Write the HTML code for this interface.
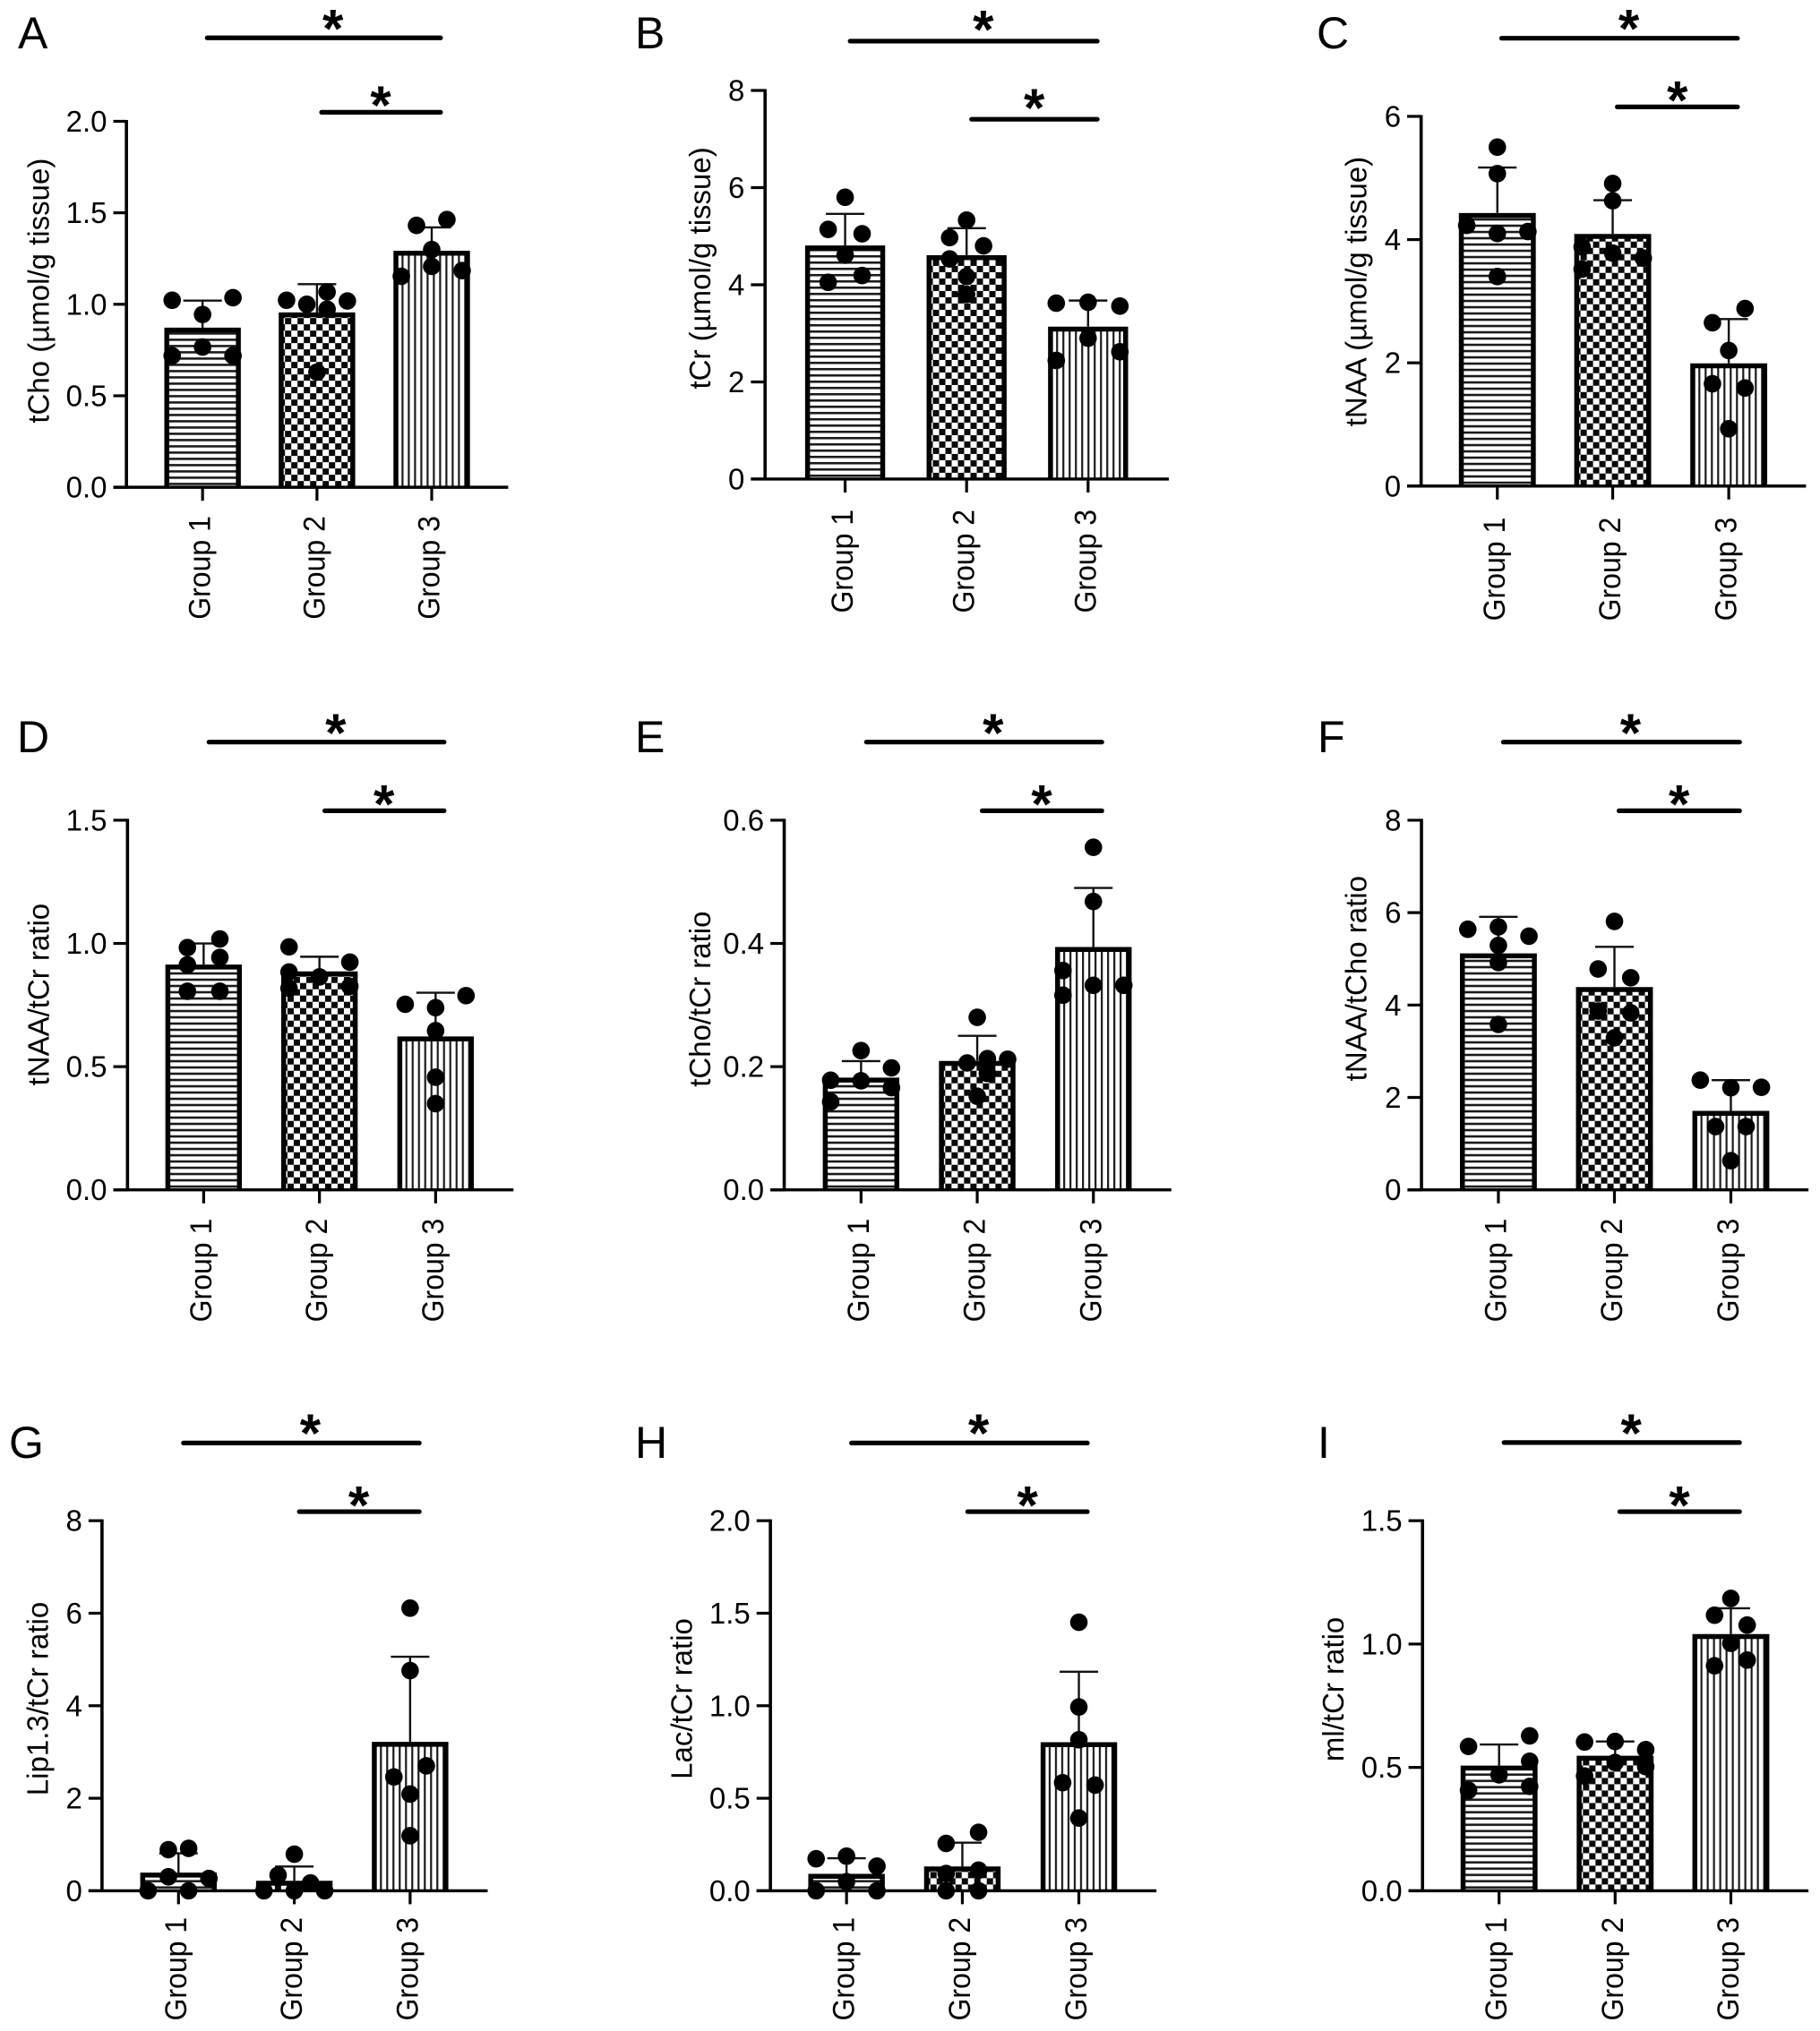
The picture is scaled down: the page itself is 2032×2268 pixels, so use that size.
<!DOCTYPE html>
<html lang="en">
<head>
<meta charset="utf-8">
<title>Metabolite bar charts by group</title>
<style>
html,body{margin:0;padding:0;background:#fff;}
body{width:2032px;height:2268px;overflow:hidden;}
svg{display:block;font-family:"Liberation Sans",Arial,sans-serif;fill:#000;}
</style>
</head>
<body>
<svg id="figure" xmlns="http://www.w3.org/2000/svg" width="2032" height="2268" viewBox="0 0 2032 2268">
<rect x="0" y="0" width="2032" height="2268" fill="#fff"/>
</svg>
<script>
const categories = ['Group 1', 'Group 2', 'Group 3'];

const meansA = [0.865, 0.948, 1.285];
const sdsA = [0.155, 0.162, 0.135];
const ticksA = ['0.0', '0.5', '1.0', '1.5', '2.0'];
const pointsA = [[1.022, 1.036, 0.944, 0.766, 0.719, 0.719], [1.022, 1.0, 1.067, 0.973, 1.018, 0.629], [1.431, 1.463, 1.299, 1.207, 1.153, 1.184]];
const slotsA = [[-3, 3, 0, 0, -3, 3], [-3, -1, 1, 1, 3, 0], [-1.5, 1.5, 0, 0, -3, 3]];

const meansB = [4.78, 4.58, 3.11];
const sdsB = [0.68, 0.585, 0.565];
const ticksB = ['0', '2', '4', '6', '8'];
const pointsB = [[5.8, 5.14, 5.05, 4.61, 4.19, 4.05], [5.33, 4.97, 4.8, 4.53, 4.17, 3.8], [3.62, 3.64, 3.56, 2.9, 2.62, 2.44]];
const slotsB = [[0, -1.6, 1.6, 0, 1.6, -1.6], [0, -1.6, 1.6, -1.6, 0, 0], [-3, 0, 3, 0, 3, -3]];

const meansC = [4.41, 4.07, 1.97];
const sdsC = [0.76, 0.57, 0.74];
const ticksC = ['0', '2', '4', '6'];
const pointsC = [[5.5, 5.07, 4.23, 4.13, 4.1, 3.4], [4.91, 4.63, 3.88, 3.52, 3.78, 3.7], [2.65, 2.88, 2.2, 1.66, 1.59, 0.93]];
const slotsC = [[0, 0, -3, 3, 0, 0], [0, 0, -3, -3, 0, 3], [-1.6, 1.6, 0, -1.6, 1.6, 0]];

const meansD = [0.909, 0.881, 0.617];
const sdsD = [0.091, 0.065, 0.183];
const ticksD = ['0.0', '0.5', '1.0', '1.5'];
const pointsD = [[0.983, 1.018, 0.913, 0.943, 0.806, 0.806], [0.986, 0.924, 0.884, 0.864, 0.818, 0.826], [0.753, 0.788, 0.739, 0.646, 0.457, 0.35]];
const slotsD = [[-1.6, 1.6, -1.6, 1.6, -1.6, 1.6], [-3, 3, -3, 0, -3, 3], [-3, 3, 0, 0, 0, 0]];

const meansE = [0.18, 0.207, 0.392];
const sdsE = [0.029, 0.043, 0.098];
const ticksE = ['0.0', '0.2', '0.4', '0.6'];
const pointsE = [[0.226, 0.198, 0.178, 0.177, 0.166, 0.143], [0.28, 0.206, 0.213, 0.212, 0.189, 0.152], [0.556, 0.468, 0.356, 0.316, 0.332, 0.332]];
const slotsE = [[0, 3, -3, 0, 3, -3], [0, -1, 1, 3, 1, 0], [0, 0, -3, -3, 0, 3]];

const meansF = [5.09, 4.36, 1.68];
const sdsF = [0.82, 0.9, 0.695];
const ticksF = ['0', '2', '4', '6', '8'];
const pointsF = [[5.64, 5.69, 5.49, 5.29, 4.92, 3.58], [5.81, 4.78, 4.59, 3.87, 3.83, 3.29], [2.375, 2.21, 2.22, 1.37, 1.37, 0.63]];
const slotsF = [[-3, 0, 3, 0, 0, 0], [0, -1.6, 1.6, -1.6, 1.6, 0], [-3, 0, 3, -1.5, 1.5, 0]];

const meansG = [0.364, 0.187, 3.19];
const sdsG = [0.446, 0.337, 1.87];
const ticksG = ['0', '2', '4', '6', '8'];
const pointsG = [[0.889, 0.916, 0.302, 0.267, 0, 0], [0.791, 0.338, 0.169, 0, 0, 0], [6.11, 4.76, 2.46, 2.7, 2.09, 1.19]];
const slotsG = [[-1, 1, -1, 3, -3, 1], [0, -1.6, 1.6, -3, 0, 3], [0, 0, -1.6, 1.6, 0, 0]];

const meansH = [0.084, 0.124, 0.796];
const sdsH = [0.092, 0.136, 0.388];
const ticksH = ['0.0', '0.5', '1.0', '1.5', '2.0'];
const pointsH = [[0.173, 0.187, 0.133, 0.049, 0, 0], [0.256, 0.316, 0.093, 0.111, 0, 0], [1.451, 0.993, 0.816, 0.584, 0.571, 0.393]];
const slotsH = [[-3, 0, 3, 0, -3, 3], [-1.6, 1.6, -1.6, 1.6, -1.6, 1.6], [0, 0, 0, -1.6, 1.6, 0]];

const meansI = [0.502, 0.542, 1.035];
const sdsI = [0.091, 0.063, 0.11];
const ticksI = ['0.0', '0.5', '1.0', '1.5'];
const pointsI = [[0.585, 0.628, 0.525, 0.47, 0.407, 0.423], [0.603, 0.605, 0.572, 0.52, 0.503, 0.465], [1.185, 1.117, 1.077, 1.003, 0.912, 0.935]];
const slotsI = [[-3, 3, 3, 0, -3, 3], [-3, 0, 3, 0, 3, -3], [0, -1.6, 1.6, 0, -1.6, 1.6]];

const panels = [
  {letter: 'A', title: 'tCho (\u00b5mol/g tissue)', means: meansA, sds: sdsA, ticks: ticksA, points: pointsA, slots: slotsA,
   ox: 0, oy: 0, fx: 1568 / 620, axisX: 357, y0: 1185, yTop: 295, xEnd: 1435, tickLeft: 320, centers: [572, 895, 1219], half: 108,
   longBar: [585, 1244, 92], shortBar: [908, 1244, 273], stars: [[940, 55], [1075, 242]], titleX: 138, titleY: 707, letterX: 20, letterY: 54, groupGap: 32},
  {letter: 'B', title: 'tCr (\u00b5mol/g tissue)', means: meansB, sds: sdsB, ticks: ticksB, points: pointsB, slots: slotsB,
   ox: 700, oy: 0, fx: 1568 / 620, axisX: 390, y0: 1165, yTop: 220, xEnd: 1530, tickLeft: 350, centers: [616, 959, 1302], half: 113,
   longBar: [630, 1328, 100], shortBar: [973, 1328, 290], stars: [[1006, 58], [1150, 248]], titleX: 235, titleY: 652, letterX: 709, letterY: 54, groupGap: 34},
  {letter: 'C', title: 'tNAA (\u00b5mol/g tissue)', means: meansC, sds: sdsC, ticks: ticksC, points: pointsC, slots: slotsC,
   ox: 1420, oy: 0, fx: 1568 / 612, axisX: 427, y0: 1182, yTop: 283, xEnd: 1528, tickLeft: 387, centers: [645, 975, 1307], half: 110,
   longBar: [657, 1332, 93], shortBar: [988, 1332, 260], stars: [[1021, 55], [1160, 230]], titleX: 270, titleY: 709, letterX: 1470, letterY: 54, groupGap: 35},
  {letter: 'D', title: 'tNAA/tCr ratio', means: meansD, sds: sdsD, ticks: ticksD, points: pointsD, slots: slotsD,
   ox: 0, oy: 780, fx: 1568 / 620, axisX: 360, y0: 1195, yTop: 296, xEnd: 1450, tickLeft: 320, centers: [575, 902, 1230], half: 108,
   longBar: [590, 1254, 106], shortBar: [917, 1254, 273], stars: [[948, 70], [1084, 243]], titleX: 138, titleY: 720, letterX: 19, letterY: 840, groupGap: 32},
  {letter: 'E', title: 'tCho/tCr ratio', means: meansE, sds: sdsE, ticks: ticksE, points: pointsE, slots: slotsE,
   ox: 700, oy: 780, fx: 1568 / 620, axisX: 444, y0: 1195, yTop: 296, xEnd: 1537, tickLeft: 405, centers: [661, 989, 1317], half: 108,
   longBar: [676, 1341, 106], shortBar: [1003, 1341, 273], stars: [[1034, 70], [1171, 243]], titleX: 235, titleY: 731, letterX: 709, letterY: 840, groupGap: 32},
  {letter: 'F', title: 'tNAA/tCho ratio', means: meansF, sds: sdsF, ticks: ticksF, points: pointsF, slots: slotsF,
   ox: 1420, oy: 780, fx: 1568 / 612, axisX: 428, y0: 1195, yTop: 296, xEnd: 1535, tickLeft: 388, centers: [648, 980, 1313], half: 110,
   longBar: [662, 1338, 106], shortBar: [993, 1338, 273], stars: [[1026, 70], [1165, 243]], titleX: 270, titleY: 681, letterX: 1471, letterY: 840, groupGap: 32},
  {letter: 'G', title: 'Lip1.3/tCr ratio', means: meansG, sds: sdsG, ticks: ticksG, points: pointsG, slots: slotsG,
   ox: 0, oy: 1548, fx: 1568 / 620, axisX: 288, y0: 1227, yTop: 327, xEnd: 1377, tickLeft: 250, centers: [504, 831, 1158], half: 108,
   longBar: [518, 1184, 138], shortBar: [845, 1184, 305], stars: [[876, 100], [1013, 275]], titleX: 135, titleY: 760, letterX: 10, letterY: 1628, groupGap: 29.5},
  {letter: 'H', title: 'Lac/tCr ratio', means: meansH, sds: sdsH, ticks: ticksH, points: pointsH, slots: slotsH,
   ox: 700, oy: 1548, fx: 1568 / 620, axisX: 405, y0: 1227, yTop: 327, xEnd: 1495, tickLeft: 366, centers: [620, 947, 1276], half: 108,
   longBar: [634, 1300, 138], shortBar: [962, 1300, 305], stars: [[993, 100], [1131, 275]], titleX: 183, titleY: 760, letterX: 709, letterY: 1628, groupGap: 29.5},
  {letter: 'I', title: 'ml/tCr ratio', means: meansI, sds: sdsI, ticks: ticksI, points: pointsI, slots: slotsI,
   ox: 1420, oy: 1548, fx: 1568 / 612, axisX: 431, y0: 1227, yTop: 327, xEnd: 1535, tickLeft: 391, centers: [650, 982, 1313], half: 110,
   longBar: [664, 1338, 137], shortBar: [995, 1338, 305], stars: [[1028, 100], [1166, 275]], titleX: 205, titleY: 737, letterX: 1471, letterY: 1628, groupGap: 29.5}
];

const FY = 1568 / 720;
const NS = 'http://www.w3.org/2000/svg';
const figure = document.getElementById('figure');
const defs = document.createElementNS(NS, 'defs');
figure.appendChild(defs);

function make(tag, attrs, parent) {
  const el = document.createElementNS(NS, tag);
  for (const k in attrs) el.setAttribute(k, attrs[k]);
  parent.appendChild(el);
  return el;
}

function makePattern(id, kind, left, bottom) {
  const size = kind === 'checker' ? 14 : 7;
  const pat = make('pattern', {id: id, patternUnits: 'userSpaceOnUse', width: size, height: size,
    patternTransform: 'translate(' + left + ' ' + bottom + ')'}, defs);
  make('rect', {x: 0, y: 0, width: size, height: size, fill: '#fff'}, pat);
  if (kind === 'horizontal') {
    make('rect', {x: 0, y: 2, width: 7, height: 2.6, fill: '#1a1a1a'}, pat);
  } else if (kind === 'vertical') {
    make('rect', {x: 2, y: 0, width: 2.2, height: 7, fill: '#1a1a1a'}, pat);
  } else {
    make('rect', {x: 0, y: 0, width: 7, height: 7, fill: '#0a0a0a'}, pat);
    make('rect', {x: 7, y: 7, width: 7, height: 7, fill: '#0a0a0a'}, pat);
  }
}

const patternKinds = ['horizontal', 'checker', 'vertical'];

panels.forEach(function (p) {
  const px = function (z) { return p.ox + z / p.fx; };
  const py = function (z) { return p.oy + z / FY; };
  const y0 = py(p.y0);
  const yTop = py(p.yTop);
  const yMax = parseFloat(p.ticks[p.ticks.length - 1]);
  const yScale = function (v) { return y0 - (v / yMax) * (y0 - yTop); };
  const xScale = function (i) { return px(p.centers[i]); };
  const halfBar = p.half / p.fx;
  const slotWidth = 0.265 * halfBar;
  const axisX = px(p.axisX);
  const tickLeft = px(p.tickLeft);
  const key = p.letter.toLowerCase();

  const g = make('g', {}, figure);
  
  

  const letter = make('text', {x: p.letterX, y: p.letterY, 'font-size': 50}, g);
  letter.textContent = p.letter;
  
  

  const title = make('text', {x: 0, y: 0, 'font-size': 33, 'text-anchor': 'middle',
    transform: 'translate(' + px(p.titleX) + ' ' + py(p.titleY) + ') rotate(-90)'}, g);
  title.textContent = p.title;
  
  

  categories.forEach(function (cat, i) {
    const cx = xScale(i);
    const top = yScale(p.means[i]) - 1.5;
    const left = cx - halfBar;
    const pid = 'fill-' + key + '-' + i;
    makePattern(pid, patternKinds[i], left, y0);

    const err = yScale(p.means[i] + p.sds[i]);
    const stem = make('line', {x1: cx, x2: cx, y1: top, y2: err, stroke: '#111', 'stroke-width': 2.4}, g);
    
    
    const cap = make('line', {x1: cx - 21.5, x2: cx + 21.5, y1: err, y2: err, stroke: '#111', 'stroke-width': 2.4}, g);
    
    

    const inset = 2.75;
    const bar = make('path', {d: 'M' + (left + inset) + ' ' + y0 + 'V' + (top + inset) + 'H' + (left + 2 * halfBar - inset) + 'V' + y0,
      fill: 'url(#' + pid + ')', stroke: '#000', 'stroke-width': 5.5}, g);
    
    
  });

  const yAxis = make('line', {x1: axisX, x2: axisX, y1: yTop - 1.5, y2: y0 + 1.5, stroke: '#000', 'stroke-width': 3.6}, g);
  
  
  const xAxis = make('line', {x1: tickLeft, x2: px(p.xEnd), y1: y0, y2: y0, stroke: '#000', 'stroke-width': 3.4}, g);
  
  

  p.ticks.forEach(function (label) {
    const ty = yScale(parseFloat(label));
    const tick = make('line', {x1: tickLeft, x2: axisX, y1: ty, y2: ty, stroke: '#000', 'stroke-width': 3.2}, g);
    
    
    const text = make('text', {x: tickLeft - 7, y: ty + 11.5, 'font-size': 33, 'text-anchor': 'end'}, g);
    text.textContent = label;
    
    
  });

  categories.forEach(function (cat, i) {
    const cx = xScale(i);
    const tick = make('line', {x1: cx, x2: cx, y1: y0, y2: y0 + 15, stroke: '#000', 'stroke-width': 3.2}, g);
    
    
    const text = make('text', {x: 0, y: 0, 'font-size': 32, 'text-anchor': 'end',
      transform: 'translate(' + (cx + 8.5) + ' ' + (y0 + p.groupGap) + ') rotate(-90) scale(1 1.08)'}, g);
    text.textContent = cat;
    
    

    p.points[i].forEach(function (v, j) {
      const dot = make('circle', {cx: cx + p.slots[i][j] * slotWidth, cy: yScale(v), r: 9.8, fill: '#000'}, g);
      
      
    });
  });

  [p.longBar, p.shortBar].forEach(function (b, i) {
    const line = make('line', {x1: px(b[0]), x2: px(b[1]), y1: py(b[2]), y2: py(b[2]), stroke: '#000', 'stroke-width': 5.2, 'stroke-linecap': 'round'}, g);
    
    
    const star = make('text', {x: px(p.stars[i][0]), y: py(p.stars[i][1]) + 27, 'font-size': 60, 'font-weight': 'bold', 'text-anchor': 'middle'}, g);
    star.textContent = '*';
    
    
  });
});
</script>
</body>
</html>
